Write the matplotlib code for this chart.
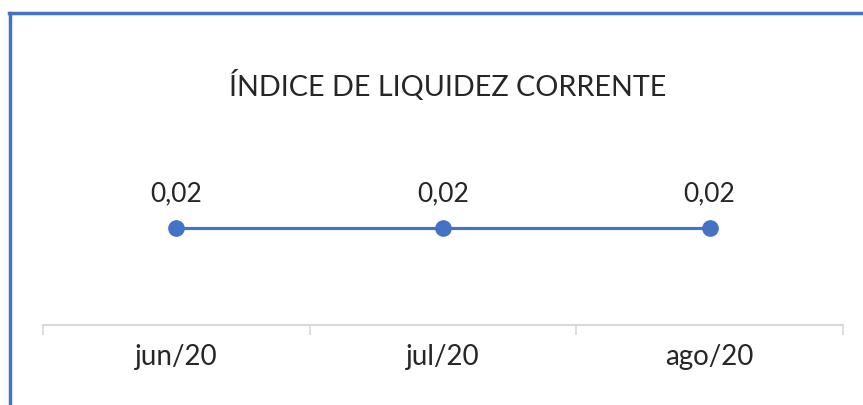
import matplotlib
matplotlib.use("Agg")
import matplotlib.pyplot as plt
from matplotlib.lines import Line2D

months = ["jun/20", "jul/20", "ago/20"]
liquidez = [0.02, 0.02, 0.02]

blue = "#4472C4"
plt.rcParams['font.family'] = ['Lato', 'DejaVu Sans']

fig = plt.figure(figsize=(8.63, 4.05), dpi=100)
W, H = 863, 405
ax = fig.add_axes([43 / W, 80 / H, 800 / W, 195 / H])

x = list(range(len(months)))
ax.plot(x, liquidez, color=blue, lw=2.25, marker="o", markersize=11, zorder=3)
for xi, v in zip(x, liquidez):
    ax.annotate(f"{v:.2f}".replace(".", ","), (xi, v), xytext=(0, 15),
                textcoords="offset points", ha="center", va="bottom",
                fontsize=19, color="#262626")

ax.set_xlim(-0.5, len(months) - 0.5)
ax.set_ylim(0, 0.04)
ax.set_yticks([])
ax.set_xticks([i - 0.5 for i in range(len(months) + 1)], minor=False)
ax.set_xticklabels([])
ax.set_xticks(x, minor=True)
ax.set_xticklabels(months, minor=True, fontsize=20, color="#262626")
ax.tick_params(axis="x", which="major", length=7, color="#D9D9D9", width=1.2)
ax.tick_params(axis="x", which="minor", length=0, pad=14)
for s in ["top", "left", "right"]:
    ax.spines[s].set_visible(False)
ax.spines["bottom"].set_color("#D9D9D9")
ax.spines["bottom"].set_linewidth(1.5)

fig.text(448 / W, 1 - 86 / H, "ÍNDICE DE LIQUIDEZ CORRENTE", ha="center",
         va="center", fontsize=20.7, color="#262626")

# chart frame (only top and left edges visible)
fig.add_artist(Line2D([10 / W, 10 / W], [0, 1 - 13 / H], transform=fig.transFigure,
                      color=blue, lw=2.5))
fig.add_artist(Line2D([9 / W, 1], [1 - 13 / H, 1 - 13 / H], transform=fig.transFigure,
                      color=blue, lw=2.5))

fig.savefig("out.png", dpi=100)
